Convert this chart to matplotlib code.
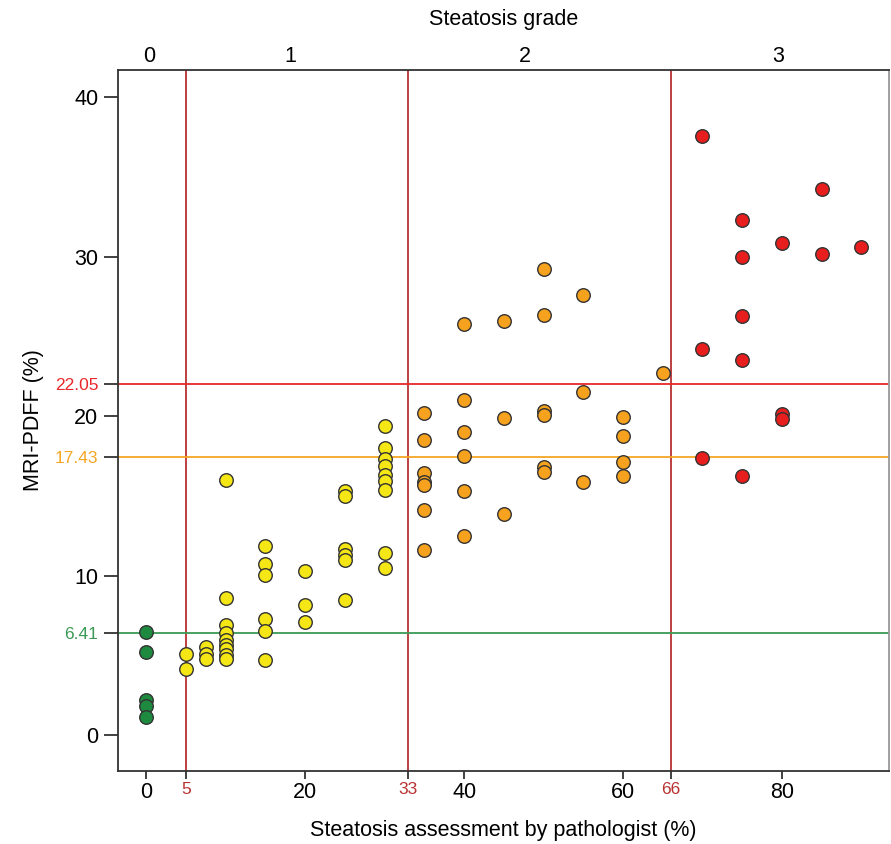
import numpy as np
import matplotlib
matplotlib.use('Agg')
import matplotlib.pyplot as plt

plt.rcParams['font.family'] = ['Liberation Sans', 'DejaVu Sans']

# pathologist % (x) and MRI-PDFF % (y), grouped by steatosis grade
g0_x = [0, 0, 0, 0, 0]
g0_y = [6.45, 5.2, 2.2, 1.85, 1.15]

g1_x = [5, 5,
        7.5, 7.5, 7.5,
        10, 10, 10, 10, 10, 10, 10, 10, 10,
        15, 15, 15, 15, 15, 15,
        20, 20, 20,
        25, 25, 25, 25, 25, 25,
        30, 30, 30, 30, 30, 30, 30, 30, 30]
g1_y = [5.1, 4.15,
        5.55, 5.1, 4.8,
        16.0, 8.6, 6.93, 6.43, 6.0, 5.66, 5.39, 5.03, 4.78,
        11.86, 10.75, 10.04, 7.3, 6.53, 4.72,
        10.31, 8.16, 7.12,
        15.33, 15.0, 11.7, 11.3, 11.0, 8.48,
        19.36, 18.02, 17.29, 16.87, 16.31, 15.95, 15.35, 11.42, 10.46]

g2_x = [35, 35, 35, 35, 35, 35, 35,
        40, 40, 40, 40, 40, 40,
        45, 45, 45,
        50, 50, 50, 50, 50, 50,
        55, 55, 55,
        60, 60, 60, 60,
        65]
g2_y = [20.19, 18.5, 16.45, 15.85, 15.7, 14.12, 11.63,
        25.77, 20.99, 18.98, 17.48, 15.29, 12.49,
        26.0, 19.86, 13.87,
        29.24, 26.33, 20.3, 20.09, 16.81, 16.5,
        27.63, 21.49, 15.87,
        19.92, 18.73, 17.12, 16.27,
        22.72]

g3_x = [70, 70, 70, 75, 75, 75, 75, 75, 80, 80, 80, 85, 85, 90]
g3_y = [37.57, 24.22, 17.37, 32.3, 29.99, 26.29, 23.53, 16.23,
        30.87, 20.13, 19.8, 34.25, 30.18, 30.62]

cut_x = [5, 33, 66]
cut_y = [6.41, 17.43, 22.05]
cut_y_colors = ['#3a9a55', '#f5a623', '#e8282a']
grade_labels = ['0', '1', '2', '3']
grade_pos = [0.4, 18.1, 47.7, 79.5]

fig = plt.figure(figsize=(8.91, 8.44), dpi=100)
ax = fig.add_axes([0.132, 0.0865, 0.866, 0.8305])

for xv in cut_x:
    ax.axvline(xv, color='#b83232', lw=1.3, zorder=1)
for yv, c in zip(cut_y, cut_y_colors):
    ax.axhline(yv, color=c, lw=1.3, zorder=1)

kw = dict(s=95, edgecolors='#333333', linewidths=1.0, zorder=3)
ax.scatter(g0_x, g0_y, c='#1e8a40', **kw)
ax.scatter(g1_x, g1_y, c='#f5e616', **kw)
ax.scatter(g2_x, g2_y, c='#f7a21e', **kw)
ax.scatter(g3_x, g3_y, c='#e81e1e', **kw)

ax.set_xlim(-3.6, 93.5)
ax.set_ylim(-2.24, 41.7)

xt = [0, 20, 40, 60, 80] + cut_x
ax.set_xticks(xt)
ax.set_xticklabels([str(v) for v in xt])
yt = [0, 10, 20, 30, 40] + cut_y
ax.set_yticks(yt)
ax.set_yticklabels(['0', '10', '20', '30', '40'] + ['%.2f' % v for v in cut_y])
ax.tick_params(axis='both', width=1.3, color='#333333', labelsize=15.5)
ax.tick_params(axis='y', length=10, pad=4)
ax.tick_params(axis='x', length=6, pad=2)

for lab, tk in zip(ax.get_xticklabels()[5:], ax.get_xticklines()[10::2]):
    lab.set_color('#b83232')
    lab.set_fontsize(12.5)
    tk.set_color('#b83232')
for lab, c in zip(ax.get_yticklabels()[5:], cut_y_colors):
    lab.set_color(c)
    lab.set_fontsize(12.5)

for s in ['left', 'bottom', 'top']:
    ax.spines[s].set_color('#333333')
    ax.spines[s].set_linewidth(1.3)
ax.spines['right'].set_color('#999999')
ax.spines['right'].set_linewidth(1.3)

ax.set_xlabel('Steatosis assessment by pathologist (%)', fontsize=15.5, labelpad=12)
ax.set_ylabel('MRI-PDFF (%)', fontsize=15.5, labelpad=8)

top = ax.twiny()
top.set_xlim(ax.get_xlim())
top.set_xticks(grade_pos)
top.set_xticklabels(grade_labels)
top.tick_params(axis='x', length=0, labelsize=15.5, pad=2)
top.set_xlabel('Steatosis grade', fontsize=15.5, labelpad=15)
for s in top.spines.values():
    s.set_visible(False)

fig.savefig('out.png', dpi=100)
